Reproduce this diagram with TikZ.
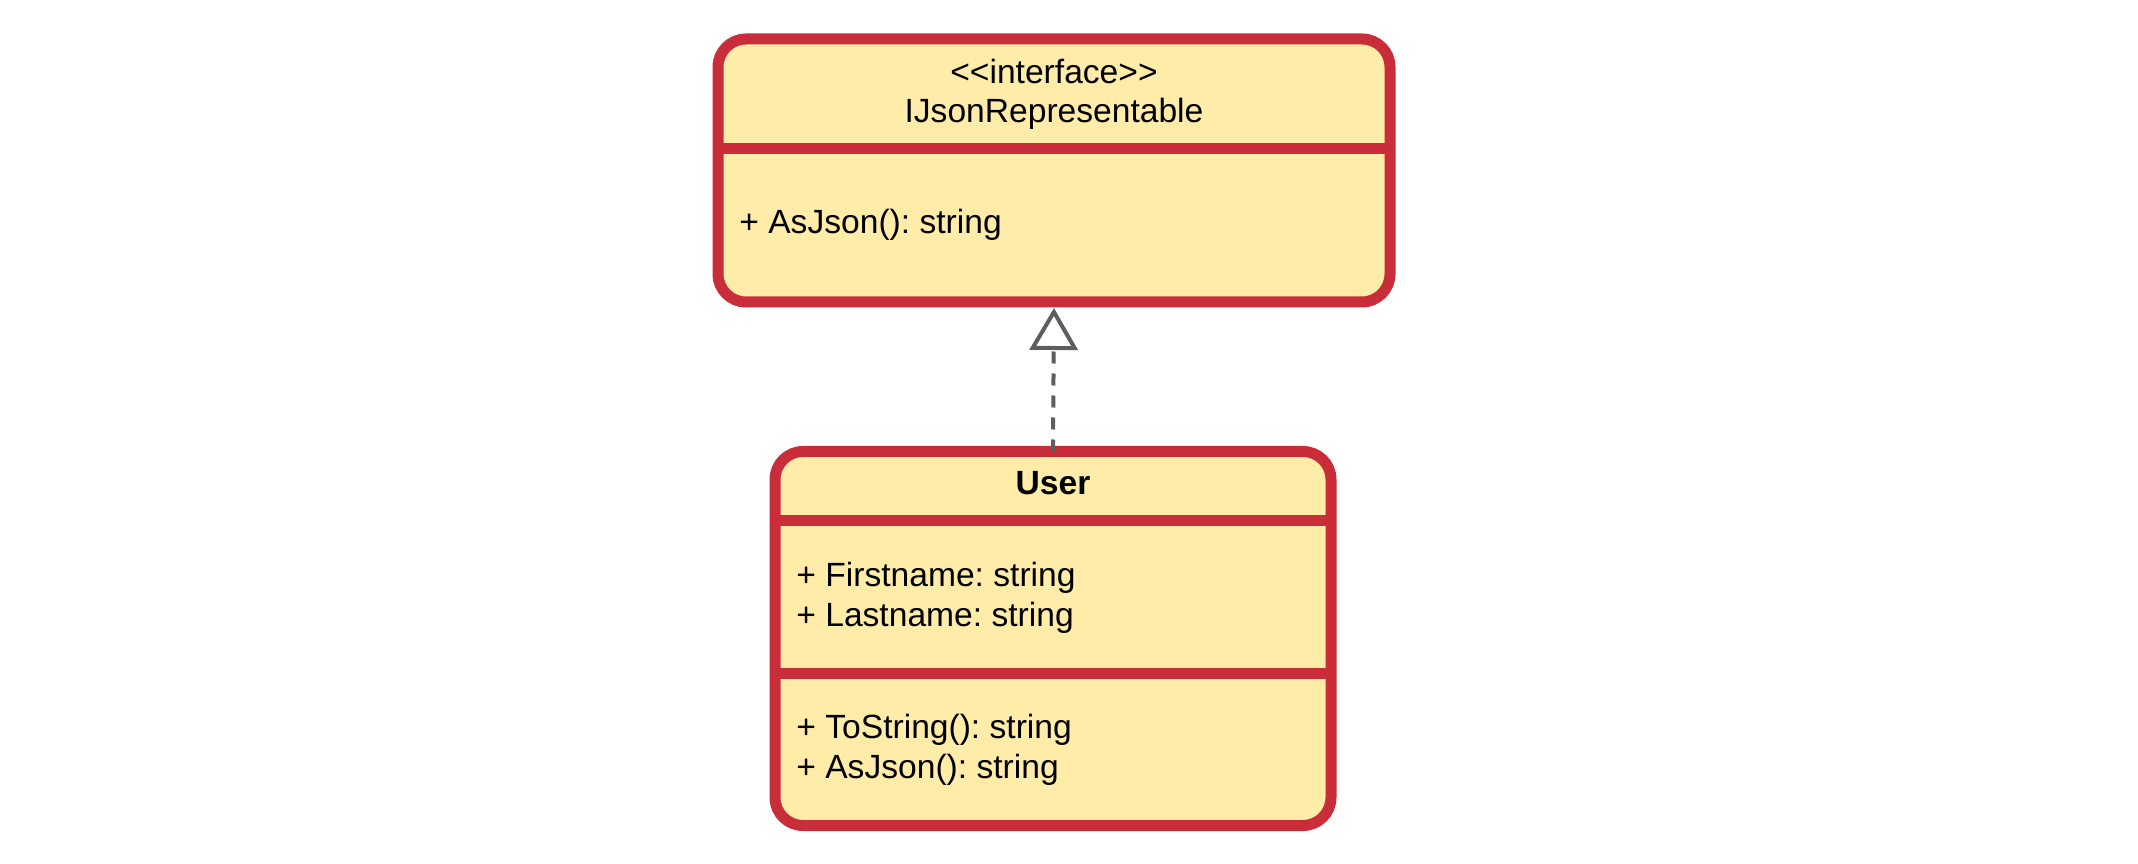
\documentclass[tikz,border=0pt]{standalone}
\usepackage{fontspec}
\setmainfont{Liberation Sans}
\usetikzlibrary{positioning,arrows.meta}
\definecolor{umlred}{HTML}{C92D39}
\definecolor{umlfill}{HTML}{FFECA8}
\definecolor{umlgray}{HTML}{5E5E5E}
\frenchspacing

\begin{document}
\begin{tikzpicture}[
  x=0.5pt, y=0.5pt,
  font=\fontsize{16.8}{20}\selectfont,
  classbox/.style={rectangle, rounded corners=14pt, draw=umlred, fill=umlfill,
                   line width=5.5pt, outer sep=0pt, inner sep=0pt},
  divider/.style={umlred, line width=5.5pt},
  title/.style={inner sep=0pt},
  member/.style={anchor=west, align=left, inner sep=0pt},
  realize/.style={-{Triangle[open, length=21pt, width=24pt]}, umlgray,
                  line width=2pt, dash pattern=on 6pt off 5pt, shorten >=3pt}
]
\useasboundingbox (0,0) rectangle (2138,863);

% Interface box
\node[classbox, minimum width=336pt, minimum height=131.5pt] (iface) at (1054,692.5) {};
\node[title] (stereo) at (1054,792) {<\kern0pt<interface>\kern0pt>};
\node[title] (ifname) at (1054,749) {IJsonRepresentable};
\draw[divider] (iface.west |- 0,714) -- (iface.east |- 0,714);
\node[member] (ifops) at (739,638) {+ AsJson(): string};

% User class box
\node[classbox, minimum width=278pt, minimum height=187pt] (user) at (1053,224.5) {};
\node[title, font=\fontsize{16.8}{20}\selectfont\bfseries] (username) at (1053,380) {User};
\draw[divider] (user.west |- 0,342) -- (user.east |- 0,342);
\node[member] (attrs) at (796,265) {+ Firstname: string\\+ Lastname: string};
\draw[divider] (user.west |- 0,189) -- (user.east |- 0,189);
\node[member] (ops) at (796,113.5) {+ ToString(): string\\+ AsJson(): string};

% Realization arrow
\draw[realize] (user.north) -- (iface.south);

\end{tikzpicture}
\end{document}
